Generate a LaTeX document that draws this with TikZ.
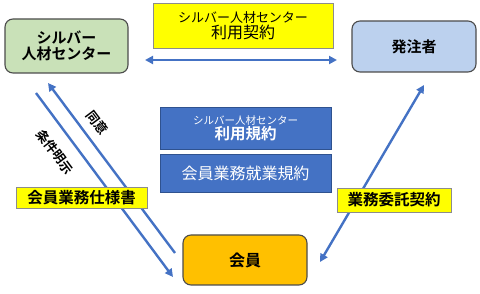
\documentclass[tikz,border=0pt]{standalone}
\usepackage{fontspec}
\setmainfont{Noto Sans CJK JP}[BoldFont={Noto Sans CJK JP Bold}]
\usetikzlibrary{arrows.meta}
\definecolor{arr}{HTML}{4472C4}
\definecolor{blu}{HTML}{4472C4}
\definecolor{bluedge}{HTML}{2F528F}
\definecolor{grn}{HTML}{C9E1B8}
\definecolor{lblu}{HTML}{BCD1EE}
\definecolor{orng}{HTML}{FFC000}
\definecolor{yel}{HTML}{FFFF00}
\tikzset{
  rbox/.style={draw=black!70, line width=1.1pt, rounded corners=8pt, align=center, inner sep=0pt},
  bbox/.style={draw=bluedge, line width=0.8pt, fill=blu, text=white, align=center, inner sep=0pt, minimum width=171pt},
  ybox/.style={draw=black!45, line width=0.8pt, fill=yel, align=center, inner sep=0pt},
  conn/.style={draw=arr, line width=2.4pt, -{Triangle[width=8pt,length=8pt]}},
  dconn/.style={draw=arr, line width=2.4pt, {Triangle[width=8pt,length=8pt]}-{Triangle[width=8pt,length=8pt]}},
  lab/.style={font=\fontsize{13}{14}\selectfont\bfseries, inner sep=0pt}
}
\begin{document}
\begin{tikzpicture}[x=1pt,y=-1pt]
\useasboundingbox (0,0) rectangle (480,294);
\node[rbox, fill=grn, minimum width=123pt, minimum height=54pt, font=\fontsize{15}{16}\selectfont\bfseries] (silver) at (66.5,46) {シルバー\\人材センター};
\node[ybox, minimum width=180pt, minimum height=45pt] (keiyaku) at (243,25.5) {\fontsize{13}{14}\selectfont シルバー人材センター\\[1pt]\fontsize{16}{17}\selectfont 利用契約};
\node[rbox, fill=lblu, minimum width=124pt, minimum height=51pt, font=\fontsize{15}{16}\selectfont\bfseries] (hatchu) at (414,46.5) {発注者};
\node[bbox, minimum height=42pt] (kiyaku) at (245.5,128) {\fontsize{10.5}{11}\selectfont シルバー人材センター\\\fontsize{15.5}{16}\selectfont\bfseries 利用規約};
\node[bbox, minimum height=38pt, font=\fontsize{16}{17}\selectfont] (shugyo) at (245.5,173) {会員業務就業規約};
\node[rbox, fill=orng, minimum width=124pt, minimum height=50pt, font=\fontsize{16}{17}\selectfont\bfseries] (kaiin) at (245,260) {会員};
\node[ybox, minimum width=131pt, minimum height=21pt, font=\fontsize{15.5}{16}\selectfont\bfseries] (shiyo) at (81.5,197.5) {会員業務仕様書};
\node[ybox, minimum width=114pt, minimum height=24pt, font=\fontsize{15.5}{16}\selectfont\bfseries] (itaku) at (394,200) {業務委託契約};
\coordinate (h1) at (145,60);
\coordinate (h2) at (337,60);
\coordinate (a1) at (175,253);
\coordinate (a2) at (48,83);
\coordinate (b1) at (36,93);
\coordinate (b2) at (173,277);
\coordinate (c1) at (320,262);
\coordinate (c2) at (424,85);
\draw[dconn] (h1) -- (h2);
\draw[conn] (a1) -- (a2);
\draw[conn] (b1) -- (b2);
\draw[dconn] (c1) -- (c2);
\node[ybox, minimum width=131pt, minimum height=21pt, font=\fontsize{15.5}{16}\selectfont\bfseries] at (shiyo) {会員業務仕様書};
\node[ybox, minimum width=114pt, minimum height=24pt, font=\fontsize{15.5}{16}\selectfont\bfseries] at (itaku) {業務委託契約};
\node[lab, rotate=-53] (doi) at (97,123) {同意};
\node[lab, rotate=-53] (joken) at (55,152) {条件明示};
\end{tikzpicture}
\end{document}
